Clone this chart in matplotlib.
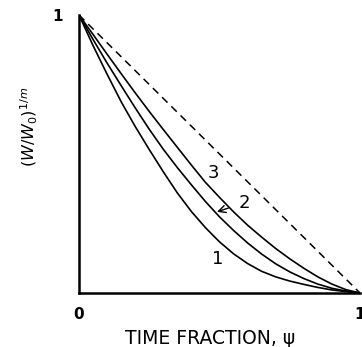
import matplotlib
matplotlib.use('Agg')
import matplotlib.pyplot as plt

# values
psi = [0, 0.05, 0.1, 0.15, 0.2, 0.25, 0.3, 0.35, 0.4, 0.45, 0.5,
       0.55, 0.6, 0.65, 0.7, 0.75, 0.8, 0.85, 0.9, 0.95, 1]
w_1 = [1, 0.890, 0.787, 0.688, 0.599, 0.516, 0.436, 0.360, 0.293, 0.235, 0.184,
       0.141, 0.106, 0.078, 0.058, 0.043, 0.031, 0.020, 0.011, 0.005, 0]
w_2 = [1, 0.912, 0.827, 0.746, 0.666, 0.589, 0.517, 0.451, 0.389, 0.329, 0.274,
       0.225, 0.180, 0.140, 0.105, 0.076, 0.052, 0.032, 0.017, 0.007, 0]
w_3 = [1, 0.930, 0.859, 0.789, 0.720, 0.653, 0.588, 0.524, 0.460, 0.398, 0.344,
       0.292, 0.244, 0.201, 0.160, 0.123, 0.089, 0.058, 0.032, 0.012, 0]

psi_lin = [0, 1]
w_lin = [1, 0]

curve_labels = ['1', '2', '3']

plt.rcParams['font.family'] = ['DejaVu Sans']

fig = plt.figure(figsize=(3.62, 3.47), dpi=100)
ax = fig.add_axes([79 / 362, 54 / 347, 281 / 362, 278 / 347])

ax.plot(psi, w_1, color='black', lw=1.2)
ax.plot(psi, w_2, color='black', lw=1.2)
ax.plot(psi, w_3, color='black', lw=1.2)
ax.plot(psi_lin, w_lin, color='black', lw=1.1, ls=(0, (5, 3.5)))

# curve labels
ax.text(0.494, 0.122, curve_labels[0], fontsize=13, ha='center', va='center')
ax.annotate(curve_labels[1], xy=(0.491, 0.292), xytext=(0.59, 0.325),
            fontsize=13, ha='center', va='center',
            arrowprops=dict(arrowstyle='->', color='black', lw=1.0,
                            shrinkA=6, shrinkB=0))
ax.text(0.48, 0.43, curve_labels[2], fontsize=13, ha='center', va='center')

ax.set_xlim(0, 1)
ax.set_ylim(0, 1)
ax.spines['top'].set_visible(False)
ax.spines['right'].set_visible(False)
ax.spines['left'].set_linewidth(1.8)
ax.spines['bottom'].set_linewidth(1.8)

ax.set_xticks([0, 1])
ax.set_xticklabels(['0', '1'], fontsize=11, fontweight='bold')
ax.set_yticks([1])
ax.set_yticklabels(['1'], fontsize=11, fontweight='bold')
ax.tick_params(axis='x', length=0, pad=10)
ax.tick_params(axis='y', length=0, pad=12)

ax.set_xlabel('TIME FRACTION, ψ', fontsize=13.5, va='center')
ax.xaxis.set_label_coords(0.466, -0.162)
ax.set_ylabel('$(W/W_0)^{1/m}$', fontsize=11.5, va='center')
ax.yaxis.set_label_coords(-0.178, 0.597)

fig.savefig('out.png', dpi=100)
